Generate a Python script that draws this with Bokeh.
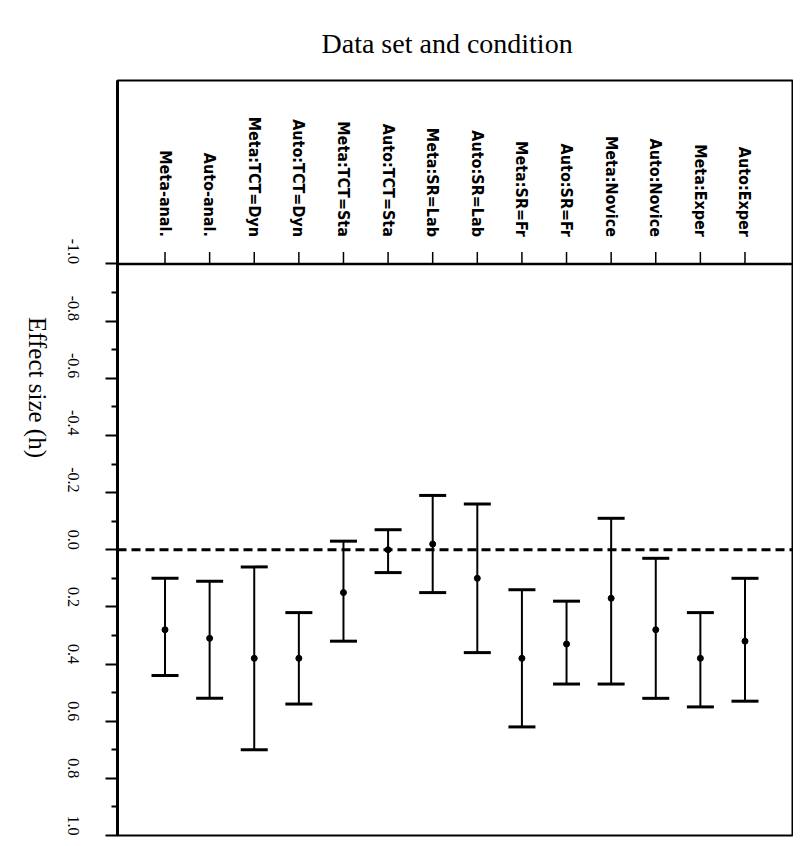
import math
from bokeh.plotting import figure
from bokeh.models import (ColumnDataSource, FactorRange, Range1d, FixedTicker, Span,
                          Whisker, TeeHead)
from bokeh.core.properties import value
from bokeh.embed import file_html
from bokeh.resources import INLINE

# ---------------- data ----------------
cats = ["Meta-anal.", "Auto-anal.", "Meta:TCT=Dyn", "Auto:TCT=Dyn", "Meta:TCT=Sta",
        "Auto:TCT=Sta", "Meta:SR=Lab", "Auto:SR=Lab", "Meta:SR=Fr", "Auto:SR=Fr",
        "Meta:Novice", "Auto:Novice", "Meta:Exper", "Auto:Exper"]
means = [0.28, 0.31, 0.38, 0.38, 0.15, 0.00, -0.02, 0.10, 0.38, 0.33, 0.17, 0.28, 0.38, 0.32]
lower = [0.10, 0.11, 0.06, 0.22, -0.03, -0.07, -0.19, -0.16, 0.14, 0.18, -0.11, 0.03, 0.22, 0.10]
upper = [0.44, 0.52, 0.70, 0.54, 0.32, 0.08, 0.15, 0.36, 0.62, 0.47, 0.47, 0.52, 0.55, 0.53]

y_ticks = [-1.0, -0.8, -0.6, -0.4, -0.2, 0.0, 0.2, 0.4, 0.6, 0.8, 1.0]
y_labels = ["-1.0", "-0.8", "-0.6", "-0.4", "-0.2", "0.0", "0.2", "0.4", "0.6", "0.8", "1.0"]
y_minor = [-0.9, -0.7, -0.5, -0.3, -0.1, 0.1, 0.3, 0.5, 0.7, 0.9]

title_text = "Data set and condition"
y_title = "Effect size (h)"

# plotting range (label box sits above -1.0)
Y_TOP = -1.642
Y_BOTTOM = 1.0
TICK_LEN = 0.042
PAD = 0.565

src = ColumnDataSource(dict(cat=cats, mean=means, lower=lower, upper=upper))

p = figure(width=793, height=838,
           x_range=FactorRange(factors=cats, range_padding=PAD, range_padding_units="absolute"),
           y_range=Range1d(start=Y_BOTTOM, end=Y_TOP),
           output_backend="svg", toolbar_location=None, x_axis_location=None,
           min_border_left=117, min_border_top=80, min_border_right=1, min_border_bottom=3)

p.grid.visible = False
p.background_fill_color = "white"
p.border_fill_color = "white"
p.outline_line_color = "black"
p.outline_line_width = 2
p.outline_line_alpha = 1.0

# title
p.title.text = title_text
p.title.align = "left"
p.title.offset = 204
p.title.standoff = 44
p.title.text_font = "Liberation Serif"
p.title.text_font_style = "normal"
p.title.text_font_size = "28px"
p.title.text_color = "black"

ax = p.yaxis[0]
ax.ticker = FixedTicker(ticks=y_ticks, minor_ticks=y_minor)
ax.major_label_overrides = {t: l for t, l in zip(y_ticks, y_labels)}
ax.major_label_orientation = -math.pi / 2
ax.major_label_text_font = "Liberation Serif"
ax.major_label_text_font_size = "16px"
ax.major_label_text_color = "black"
ax.major_label_standoff = 32
ax.major_tick_in = 0
ax.major_tick_out = 12
ax.minor_tick_in = 0
ax.minor_tick_out = 6
ax.major_tick_line_width = 2
ax.minor_tick_line_width = 2
ax.axis_line_width = 3
ax.axis_line_color = "black"
ax.axis_label = y_title
ax.axis_label_text_font = "Liberation Serif"
ax.axis_label_text_font_style = "normal"
ax.axis_label_text_font_size = "25px"
ax.axis_label_text_color = "black"
ax.axis_label_standoff = 22
if "axis_label_orientation" in ax.properties():
    ax.axis_label_orientation = -math.pi / 2

# line separating label box from the data area
p.add_layout(Span(location=-1.0, dimension="width", line_color="black", line_width=2.5))
# zero reference line
p.add_layout(Span(location=0.0, dimension="width", line_color="black", line_width=3,
                  line_dash="9 5"))

# category labels and their ticks in the upper box
p.text(x=cats, y=[-1.0] * len(cats), text=cats, angle=-math.pi / 2,
       text_align="right", text_baseline="middle", y_offset=-27,
       text_font=value("DejaVu Sans Condensed"), text_font_style="bold",
       text_font_size="16px", text_color="black")
p.segment(x0=cats, y0=[-1.0] * len(cats), x1=cats, y1=[-1.0 - TICK_LEN] * len(cats),
          line_color="black", line_width=1.5)

# error bars
head = dict(size=27, line_width=3, line_color="black")
wh = Whisker(source=src, base="cat", upper="upper", lower="lower", dimension="height",
             line_color="black", line_width=2,
             upper_head=TeeHead(**head), lower_head=TeeHead(**head))
p.add_layout(wh)
p.scatter(x="cat", y="mean", source=src, size=6, color="black")

open("out.html", "w").write(file_html(p, INLINE))
